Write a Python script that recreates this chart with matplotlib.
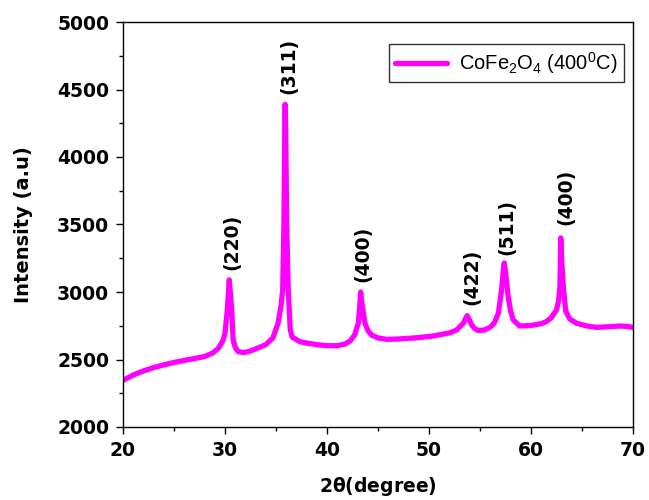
import matplotlib
matplotlib.use("Agg")
import matplotlib.pyplot as plt
from matplotlib.ticker import MultipleLocator

# XRD pattern of CoFe2O4 annealed at 400 C (traced intensity profile)
two_theta = [20.0, 21.0, 22.0, 23.0, 24.0, 25.0, 26.0, 27.0, 28.0, 28.8,
             29.35, 29.8, 30.0, 30.23, 30.42, 30.66, 30.8, 31.0, 31.3, 31.8,
             32.3, 33.0, 34.0, 34.7, 35.2, 35.5, 35.66, 35.78, 35.86, 35.9,
             35.95, 36.05, 36.2, 36.4, 36.6, 37.35, 38.0, 39.0, 40.0, 41.0,
             41.8, 42.3, 42.7, 43.07, 43.2, 43.3, 43.45, 43.73, 44.0, 44.38,
             45.0, 45.85, 47.0, 49.0, 50.5, 52.0, 52.7, 53.36, 53.6, 53.75,
             53.95, 54.2, 54.5, 54.83, 55.4, 55.98, 56.4, 56.8, 57.12, 57.3,
             57.38, 57.5, 57.77, 58.0, 58.26, 58.9, 60.0, 61.0, 61.5, 62.0,
             62.5, 62.7, 62.84, 62.92, 63.0, 63.17, 63.4, 63.8, 64.48, 65.5,
             66.44, 67.5, 68.7, 69.4, 70.0]
intensity = [2345, 2385, 2415, 2440, 2460, 2478, 2493, 2507, 2522, 2548,
             2583, 2640, 2694, 2867, 3090, 2867, 2644, 2590, 2558, 2552,
             2558, 2578, 2610, 2660, 2768, 2900, 3020, 3500, 4200, 4390,
             4200, 3500, 3020, 2720, 2665, 2632, 2622, 2610, 2602, 2602,
             2615, 2640, 2680, 2768, 2880, 3000, 2900, 2768, 2715, 2681,
             2660, 2649, 2652, 2662, 2675, 2697, 2718, 2768, 2805, 2825,
             2795, 2755, 2728, 2715, 2718, 2738, 2770, 2842, 3015, 3170,
             3215, 3150, 2965, 2860, 2793, 2748, 2752, 2765, 2780, 2810,
             2867, 2930, 3039, 3400, 3250, 3039, 2860, 2800, 2768, 2748,
             2738, 2742, 2748, 2745, 2738]

# Miller indices labelling the peaks: (label, 2theta, intensity at label base)
hkl_labels = ["(220)", "(311)", "(400)", "(422)", "(511)", "(400)"]
hkl_x = [30.65, 36.3, 43.5, 54.2, 57.65, 63.4]
hkl_y = [3160, 4470, 3076, 2904, 3274, 3496]

plt.rcParams["mathtext.default"] = "regular"

fig = plt.figure(figsize=(6.49, 5.0), dpi=100)
ax = fig.add_axes([0.1895, 0.146, 0.7858, 0.81])

ax.plot(two_theta, intensity, color="#FF00FF", linewidth=3.8,
        solid_joinstyle="round", solid_capstyle="round",
        label=r"CoFe$_2$O$_4$ (400$^0$C)")

for lab, xx, yy in zip(hkl_labels, hkl_x, hkl_y):
    ax.text(xx, yy, lab, rotation=90, ha="center", va="bottom",
            fontsize=13.5, fontweight="bold", family="DejaVu Sans")

ax.set_xlim(20, 70)
ax.set_ylim(2000, 5000)
ax.xaxis.set_major_locator(MultipleLocator(10))
ax.xaxis.set_minor_locator(MultipleLocator(5))
ax.yaxis.set_major_locator(MultipleLocator(500))
ax.yaxis.set_minor_locator(MultipleLocator(250))
ax.tick_params(which="both", direction="out", top=False, right=False, width=1)
ax.tick_params(which="major", length=5, labelsize=13.5, pad=5)
ax.tick_params(which="minor", length=3)
for lbl in ax.get_xticklabels() + ax.get_yticklabels():
    lbl.set_fontweight("bold")
for sp in ax.spines.values():
    sp.set_linewidth(1)

ax.set_xlabel(r"2$\theta$(degree)", fontsize=13.5, fontweight="bold", labelpad=11)
ax.set_ylabel("Intensity (a.u)", fontsize=14, fontweight="bold", labelpad=17)

leg = ax.legend(loc="upper right", bbox_to_anchor=(0.982, 0.946),
                borderaxespad=0,
                prop={"family": "Liberation Sans", "size": 14.5},
                fancybox=False, edgecolor="black", handlelength=2.6,
                borderpad=0.3, handletextpad=0.6)
leg.get_frame().set_linewidth(1)

fig.savefig("out.png", dpi=100)
